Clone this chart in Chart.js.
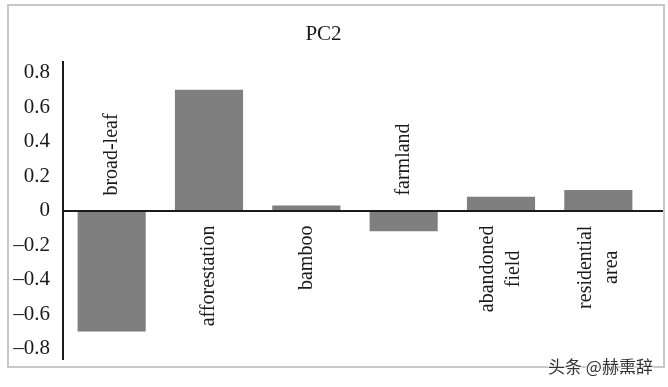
<!DOCTYPE html>
<html>
<head>
<meta charset="utf-8">
<script src="https://cdn.jsdelivr.net/npm/chart.js@4/dist/chart.umd.min.js"></script>
<style>
  html, body { margin: 0; padding: 0; background: #fff; }
  #wrap { position: relative; width: 668px; height: 387px; }
  #frame { position: absolute; left: 7px; top: 4px; width: 658px; height: 364px;
           border: 2px solid #c8c8c8; box-sizing: border-box; pointer-events: none; }
  #mark { position: absolute; left: 548px; top: 353px; font: 17px "Noto Sans CJK SC", sans-serif;
          color: #333; white-space: nowrap;
          text-shadow: 0 0 2px #fff, 0 0 2px #fff, 1px 1px 1px #fff, -1px -1px 1px #fff; }
</style>
</head>
<body>
<div id="wrap">
  <canvas id="chart" width="668" height="387"></canvas>
  <div id="frame"></div>
  <div id="mark">头条 @赫熏辞</div>
</div>
<script>
// data
const categories = [['broad-leaf'], ['afforestation'], ['bamboo'], ['farmland'], ['abandoned', 'field'], ['residential', 'area']];
const pc2Values = [-0.70, 0.70, 0.03, -0.12, 0.08, 0.12];
const yMin = -0.86;
const yMax = 0.86;
const yStep = 0.2;

const serif = '"Liberation Serif", "Times New Roman", serif';

// category names are written next to the zero line, on the side away from the bar
const barLabels = {
    id: 'barLabels',
    afterDatasetsDraw(chart) {
        const ctx = chart.ctx;
        const x = chart.scales.x;
        const y = chart.scales.y;
        const y0 = y.getPixelForValue(0);
        ctx.save();
        ctx.font = '20px ' + serif;
        ctx.fillStyle = '#1a1a1a';
        ctx.textBaseline = 'middle';
        ctx.textAlign = 'center';
        categories.forEach((lines, i) => {
            const cx = x.getPixelForValue(i);
            const w = Math.max(...lines.map(l => ctx.measureText(l).width));
            const gap = 15;
            const along = pc2Values[i] < 0 ? gap + w / 2 : -(gap + w / 2);
            const lh = 26;
            ctx.save();
            ctx.translate(cx, y0);
            ctx.rotate(-Math.PI / 2);
            lines.forEach((l, k) => {
                const off = (k - (lines.length - 1) / 2) * lh;
                ctx.fillText(l, along, off);
            });
            ctx.restore();
        });
        // zero line runs to the frame
        ctx.strokeStyle = '#1a1a1a';
        ctx.lineWidth = 2;
        ctx.beginPath();
        ctx.moveTo(chart.chartArea.left, Math.round(y0));
        ctx.lineTo(chart.width - 3, Math.round(y0));
        ctx.stroke();
        ctx.restore();
    }
};

new Chart(document.getElementById('chart'), {
    type: 'bar',
    data: {
        labels: categories.map(c => c.join(' ')),
        datasets: [{
            label: 'PC2',
            data: pc2Values,
            backgroundColor: '#7f7f7f',
            borderWidth: 0,
            barPercentage: 0.7,
            categoryPercentage: 1,
        }]
    },
    options: {
        responsive: false,
        animation: false,
        layout: { padding: { top: 0, right: 21, bottom: 28, left: 0 } },
        plugins: {
            legend: { display: false },
            tooltip: { enabled: false },
            title: {
                display: true,
                text: 'PC2',
                color: '#1a1a1a',
                font: { family: serif, size: 21, weight: 'normal', lineHeight: 1.2 },
                padding: { top: 22, bottom: 15 }
            }
        },
        scales: {
            x: { display: false },
            y: {
                min: yMin,
                max: yMax,
                grid: { display: false, drawTicks: false },
                border: { display: true, color: '#1a1a1a', width: 2 },
                ticks: {
                    stepSize: yStep,
                    includeBounds: false,
                    padding: 13,
                    color: '#1a1a1a',
                    font: { family: serif, size: 21 },
                    callback: v => {
                        const r = Math.round(v * 10) / 10;
                        if (r === 0) return '0';
                        return (r < 0 ? '\u2013' : '') + Math.abs(r).toFixed(1);
                    }
                },
                afterFit: s => { s.width = 63; }
            }
        }
    },
    plugins: [barLabels]
});
</script>
</body>
</html>
